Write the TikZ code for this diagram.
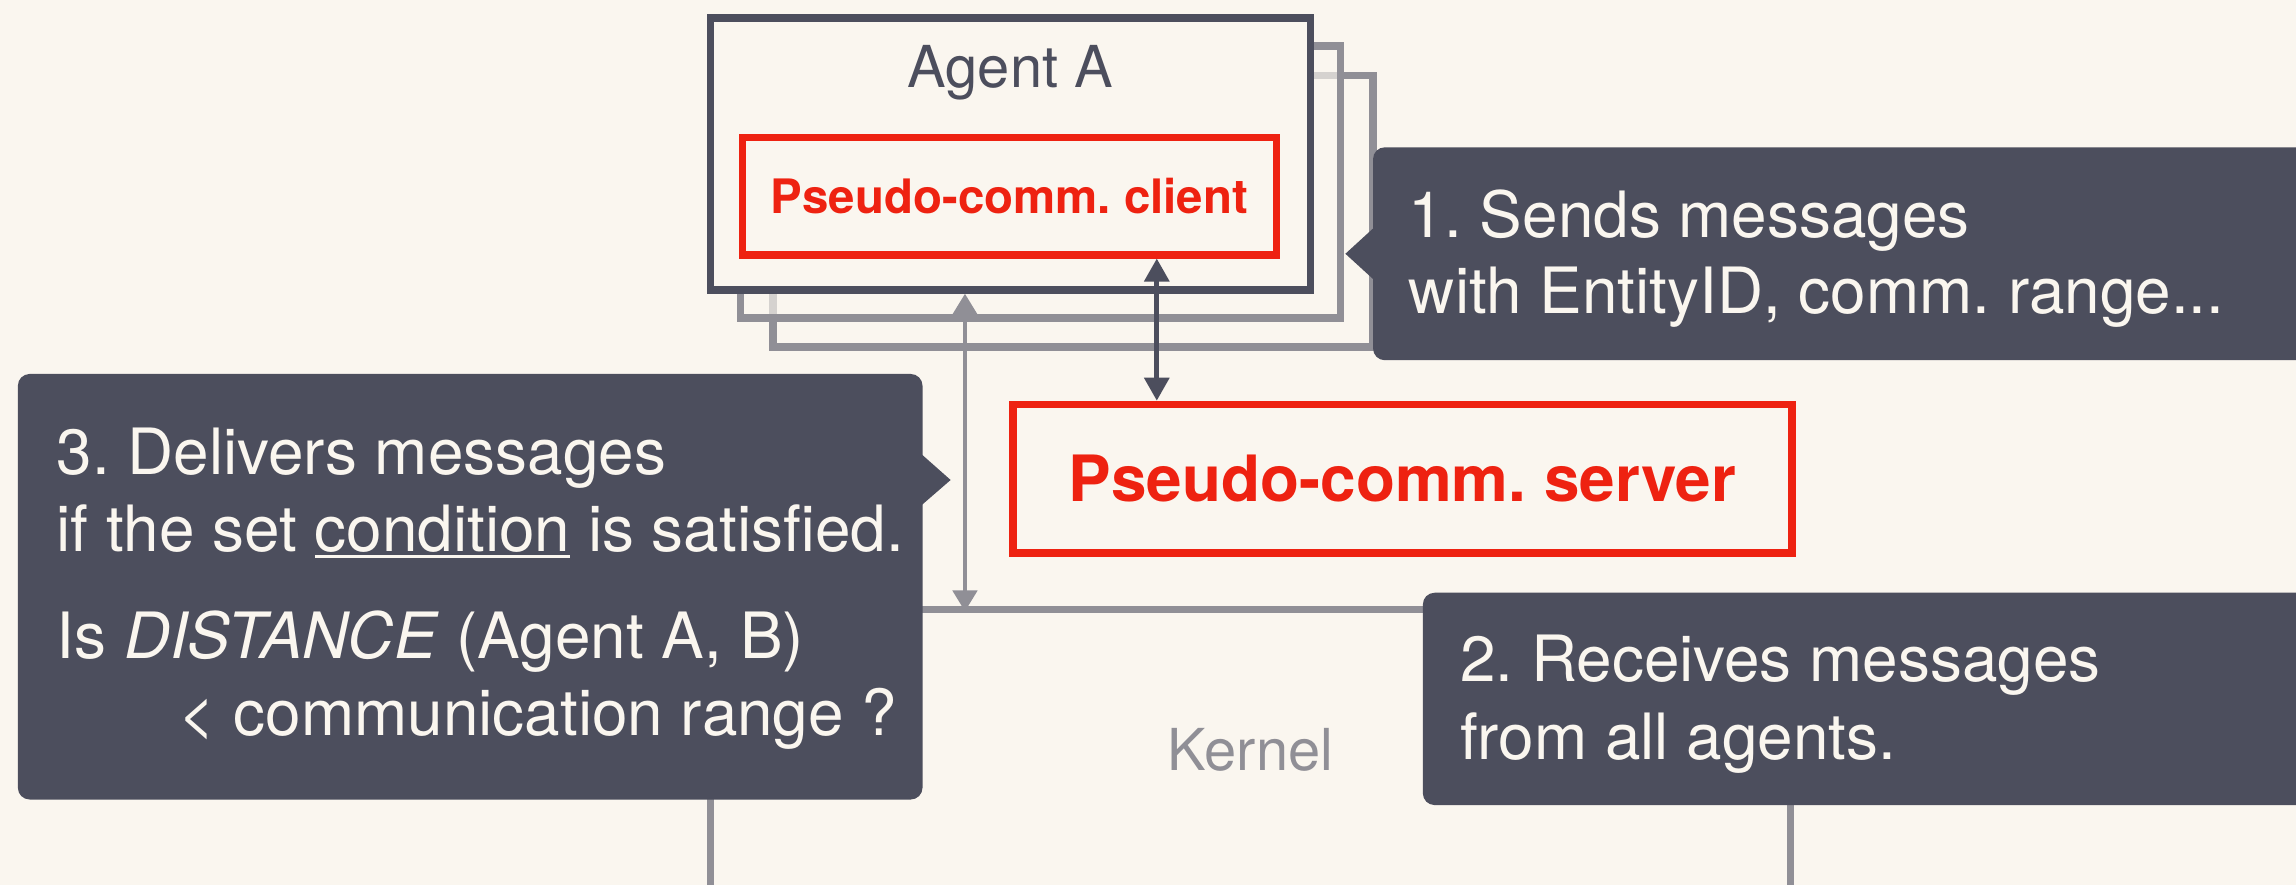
\documentclass[tikz,border=0pt]{standalone}
\usepackage{fontspec}
\setmainfont{TeX Gyre Heros}
\usetikzlibrary{arrows.meta,calc}
\definecolor{paper}{RGB}{250,246,239}
\definecolor{slate}{RGB}{76,78,93}
\definecolor{signal}{RGB}{238,34,17}
\definecolor{ash}{RGB}{144,143,150}
\frenchspacing
% underline drawn as a rule under the word
\newcommand\condul[1]{\setbox0\hbox{#1}\rlap{\rule[-4.6pt]{\wd0}{2.2pt}}\box0\relax}
\begin{document}
\begin{tikzpicture}[x=1pt,y=-1pt,
  agentframe/.style={draw=slate,line width=5.1pt,fill=paper,inner sep=0pt,
    minimum width=409.8pt,minimum height=185.7pt},
  ghostframe/.style={draw=ash,line width=5pt,fill=paper,fill opacity=0.65,inner sep=0pt,
    minimum width=409.8pt,minimum height=185.7pt},
  redbox/.style={draw=signal,text=signal,fill=paper,inner sep=0pt,text depth=0pt},
  callout/.style={fill=slate,rounded corners=8pt,inner sep=0pt},
  note/.style={anchor=base west,inner sep=0pt,text=paper,
    font=\fontsize{43.6pt}{52pt}\selectfont},
  bigtip/.tip={Triangle[length=15.7pt,width=16.7pt]},
  graytip/.tip={Triangle[length=14.3pt,width=16.7pt]}]

\clip (0,0) rectangle (1568,604);
\fill[paper] (-5,-5) rectangle (1575,610);

% kernel box
\node[draw=ash,line width=4.8pt,inner sep=0pt,minimum width=738pt,minimum height=191.2pt,
  text=ash,font=\fontsize{39.5pt}{47pt}\selectfont,text height=28.4pt,text depth=0pt]
  (kernel) at (854,511.8) {Kernel};

% stacked agents
\node[ghostframe] (stackc) at (732.8,144.2) {};
\node[ghostframe] (stackb) at (710.4,124.3) {};
\node[agentframe] (agentA) at (690.1,105.2) {};
\node[anchor=base,inner sep=0pt,text=slate,font=\fontsize{39.5pt}{47pt}\selectfont]
  (agentname) at (690,60) {Agent A};

% client and server
\node[redbox,line width=4.8pt,minimum width=364.7pt,minimum height=80.5pt,
  font=\bfseries\fontsize{32.4pt}{39pt}\selectfont,text height=23.2pt]
  (client) at (689.4,133.9) {Pseudo-comm. client};
\node[redbox,line width=5.2pt,minimum width=531.8pt,minimum height=101.3pt,
  font=\bfseries\fontsize{43.6pt}{52pt}\selectfont,text height=31.4pt]
  (server) at (957.7,326.9) {Pseudo-comm. server};

% connectors
\coordinate (busx) at (790,0);
\draw[slate,line width=3.3pt,bigtip-bigtip] (client.south -| busx) -- (server.north -| busx);
\coordinate (kernelport) at (659,417.5);
\draw[ash,line width=2.5pt,graytip-graytip] (kernelport) -- (agentA.south -| kernelport);

% callout 1
\node[callout,minimum width=662.3pt,minimum height=145.4pt] (sends) at (1268.85,173.3) {};
\fill[slate] ($(sends.west)+(1,-18)$) -- ($(sends.west)+(-18.7,0)$) -- ($(sends.west)+(1,18)$) -- cycle;
\node[note] (sendsa) at (962,162) {1. Sends messages};
\node[note] (sendsb) at (962,214) {with EntityID, comm. range...};

% callout 2
\node[callout,minimum width=628.3pt,minimum height=145pt] (receives) at (1285.85,477.3) {};
\node[note] (receivesa) at (997,465.5) {2. Receives messages};
\node[note] (receivesb) at (997,518.6) {from all agents.};

% callout 3
\node[callout,minimum width=617.8pt,minimum height=290.6pt] (delivers) at (321.1,400.7) {};
\fill[slate] ($(delivers.north east)+(-2,54)$) -- ($(delivers.north east)+(19,72.6)$) -- ($(delivers.north east)+(-2,90.8)$) -- cycle;
\node[note] (deliversa) at (38.5,324) {3. Delivers messages};
\node[note] (deliversb) at (38.5,376.8) {if the set \condul{condition} is satisfied.};
\node[note] (deliversc) at (38.5,449.6) {Is \textit{DISTANCE} (Agent A, B)};
\node[note] (deliversd) at (122,502) {<~communication range ?};
\end{tikzpicture}
\end{document}
